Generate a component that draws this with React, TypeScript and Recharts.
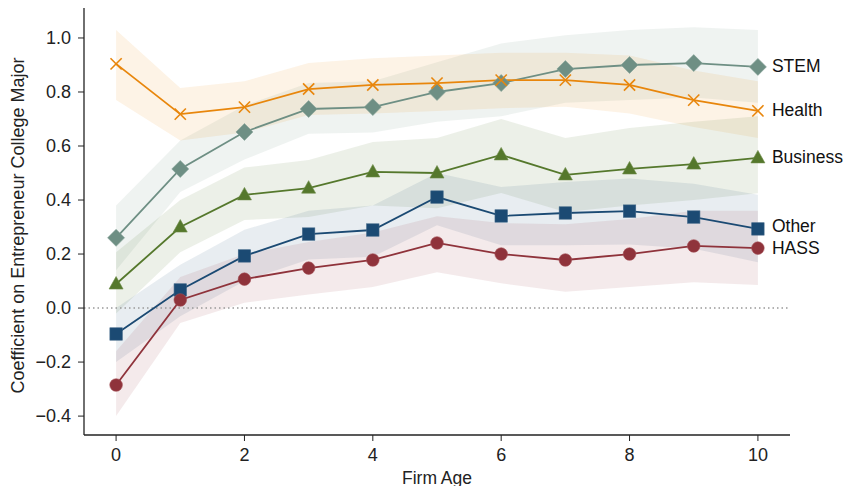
import React from 'react';
import {
  ComposedChart, Line, Area, XAxis, YAxis, ReferenceLine, ReferenceDot,
} from 'recharts';

const ages = [0, 1, 2, 3, 4, 5, 6, 7, 8, 9, 10];

const stem = [0.26, 0.515, 0.652, 0.737, 0.744, 0.80, 0.833, 0.885, 0.90, 0.907, 0.893];
const stemLo = [0.14, 0.43, 0.55, 0.645, 0.65, 0.69, 0.71, 0.76, 0.77, 0.78, 0.76];
const stemHi = [0.38, 0.62, 0.75, 0.833, 0.84, 0.91, 0.98, 1.01, 1.03, 1.04, 1.03];

const health = [0.904, 0.718, 0.744, 0.811, 0.826, 0.833, 0.844, 0.844, 0.826, 0.77, 0.73];
const healthLo = [0.77, 0.62, 0.65, 0.715, 0.72, 0.73, 0.74, 0.745, 0.72, 0.67, 0.63];
const healthHi = [1.03, 0.815, 0.84, 0.907, 0.925, 0.935, 0.945, 0.945, 0.935, 0.88, 0.84];

const business = [0.089, 0.30, 0.419, 0.444, 0.504, 0.50, 0.567, 0.493, 0.515, 0.533, 0.556];
const businessLo = [-0.02, 0.207, 0.326, 0.337, 0.38, 0.37, 0.426, 0.356, 0.38, 0.40, 0.425];
const businessHi = [0.207, 0.40, 0.52, 0.548, 0.615, 0.63, 0.70, 0.63, 0.667, 0.69, 0.71];

const other = [-0.096, 0.067, 0.193, 0.274, 0.289, 0.411, 0.341, 0.352, 0.359, 0.337, 0.293];
const otherLo = [-0.2, -0.03, 0.10, 0.18, 0.19, 0.307, 0.233, 0.233, 0.235, 0.22, 0.17];
const otherHi = [0.0, 0.16, 0.29, 0.36, 0.38, 0.50, 0.448, 0.467, 0.48, 0.46, 0.42];

const hass = [-0.285, 0.03, 0.107, 0.148, 0.178, 0.241, 0.20, 0.178, 0.20, 0.23, 0.222];
const hassLo = [-0.40, -0.055, 0.02, 0.05, 0.078, 0.133, 0.092, 0.06, 0.078, 0.096, 0.085];
const hassHi = [-0.16, 0.115, 0.20, 0.245, 0.28, 0.34, 0.315, 0.31, 0.33, 0.36, 0.36];

const xTicks = [0, 2, 4, 6, 8, 10];
const yTicks = [-0.4, -0.2, 0.0, 0.2, 0.4, 0.6, 0.8, 1.0];

const data = ages.map((a, i) => ({
  age: a,
  stem: stem[i], stemBand: [stemLo[i], stemHi[i]],
  health: health[i], healthBand: [healthLo[i], healthHi[i]],
  business: business[i], businessBand: [businessLo[i], businessHi[i]],
  other: other[i], otherBand: [otherLo[i], otherHi[i]],
  hass: hass[i], hassBand: [hassLo[i], hassHi[i]],
}));

const C = {
  stem: '#6e8f84',
  health: '#e8860c',
  business: '#55782c',
  other: '#1b4a73',
  hass: '#8f333b',
};

const FONT = '"Liberation Sans", Arial, sans-serif';

const Diamond = (p: any) => {
  const { cx, cy } = p;
  if (cx == null || cy == null) return null;
  const s = 8.5;
  return <polygon key={`d${p.index}`} points={`${cx},${cy - s} ${cx + s},${cy} ${cx},${cy + s} ${cx - s},${cy}`} fill={C.stem} stroke="#86a298" strokeWidth={0.6} />;
};
const Cross = (p: any) => {
  const { cx, cy } = p;
  if (cx == null || cy == null) return null;
  const s = 5.6;
  return (
    <g key={`x${p.index}`}>
      <line x1={cx - s} y1={cy - s} x2={cx + s} y2={cy + s} stroke={C.health} strokeWidth={1.6} />
      <line x1={cx - s} y1={cy + s} x2={cx + s} y2={cy - s} stroke={C.health} strokeWidth={1.6} />
    </g>
  );
};
const Tri = (p: any) => {
  const { cx, cy } = p;
  if (cx == null || cy == null) return null;
  return <polygon key={`t${p.index}`} points={`${cx},${cy - 7.5} ${cx + 7},${cy + 5} ${cx - 7},${cy + 5}`} fill={C.business} stroke="#6c8a47" strokeWidth={0.6} />;
};
const Sq = (p: any) => {
  const { cx, cy } = p;
  if (cx == null || cy == null) return null;
  return <rect key={`s${p.index}`} x={cx - 6.2} y={cy - 6.2} width={12.4} height={12.4} fill={C.other} stroke="#3d6486" strokeWidth={0.6} />;
};
const Circ = (p: any) => {
  const { cx, cy } = p;
  if (cx == null || cy == null) return null;
  return <circle key={`c${p.index}`} cx={cx} cy={cy} r={6.3} fill={C.hass} stroke="#a24d54" strokeWidth={0.6} />;
};

const endLabel = (text: string, dy: number) => (p: any) => (
  <text x={p.cx + 14} y={p.cy + dy} dominantBaseline="central" fontSize={17.5} fontFamily={FONT} fill="#111">{text}</text>
);

const fmtY = (v: number) => (v < 0 ? '\u2212' + Math.abs(v).toFixed(1) : v.toFixed(1));

export default function App() {
  return (
    <div style={{ position: 'absolute', left: 0, top: 0, background: '#fff' }}>
      <ComposedChart width={847} height={486} data={data} margin={{ top: 8, right: 57, bottom: 0, left: 0 }}>
        <XAxis
          dataKey="age" type="number" domain={[-0.5, 10.5]} ticks={xTicks}
          height={51} tickSize={6} tickMargin={7}
          axisLine={{ stroke: '#222', strokeWidth: 1.3 }} tickLine={{ stroke: '#222' }}
          tick={{ fontSize: 18, fill: '#222', fontFamily: FONT }}
          label={{
            content: (p: any) => (
              <text x={p.viewBox.x + p.viewBox.width / 2} y={484} textAnchor="middle" fontSize={17.5} fontFamily={FONT} fill="#222">Firm Age</text>
            ),
          }}
        />
        <YAxis
          type="number" domain={[-0.47, 1.111]} ticks={yTicks} width={84}
          tickSize={6} tickMargin={7} tickFormatter={fmtY} allowDataOverflow
          axisLine={{ stroke: '#222', strokeWidth: 1.3 }} tickLine={{ stroke: '#222' }}
          tick={{ fontSize: 18, fill: '#222', fontFamily: FONT }}
          label={{
            content: (p: any) => {
              const x = p.viewBox.x + 18;
              const y = p.viewBox.y + p.viewBox.height / 2 + 4;
              return (
                <text x={x} y={y} transform={`rotate(-90 ${x} ${y})`} textAnchor="middle" dominantBaseline="central" fontSize={18} fontFamily={FONT} fill="#222">
                  Coefficient on Entrepreneur College Major
                </text>
              );
            },
          }}
        />
        <ReferenceLine y={0} stroke="#999" strokeWidth={1.5} strokeDasharray="1.5 3" />

        <Area type="linear" dataKey="stemBand" stroke="none" fill={C.stem} fillOpacity={0.11} isAnimationActive={false} activeDot={false} dot={false} />
        <Area type="linear" dataKey="healthBand" stroke="none" fill={C.health} fillOpacity={0.1} isAnimationActive={false} activeDot={false} dot={false} />
        <Area type="linear" dataKey="businessBand" stroke="none" fill={C.business} fillOpacity={0.11} isAnimationActive={false} activeDot={false} dot={false} />
        <Area type="linear" dataKey="otherBand" stroke="none" fill={C.other} fillOpacity={0.1} isAnimationActive={false} activeDot={false} dot={false} />
        <Area type="linear" dataKey="hassBand" stroke="none" fill={C.hass} fillOpacity={0.1} isAnimationActive={false} activeDot={false} dot={false} />

        <Line type="linear" dataKey="stem" stroke={C.stem} strokeWidth={1.8} dot={Diamond} activeDot={false} isAnimationActive={false} />
        <Line type="linear" dataKey="health" stroke={C.health} strokeWidth={1.8} dot={Cross} activeDot={false} isAnimationActive={false} />
        <Line type="linear" dataKey="business" stroke={C.business} strokeWidth={1.8} dot={Tri} activeDot={false} isAnimationActive={false} />
        <Line type="linear" dataKey="other" stroke={C.other} strokeWidth={1.8} dot={Sq} activeDot={false} isAnimationActive={false} />
        <Line type="linear" dataKey="hass" stroke={C.hass} strokeWidth={1.8} dot={Circ} activeDot={false} isAnimationActive={false} />

        <ReferenceDot x={ages[10]} y={stem[10]} r={0} shape={endLabel('STEM', -1)} />
        <ReferenceDot x={ages[10]} y={health[10]} r={0} shape={endLabel('Health', -1)} />
        <ReferenceDot x={ages[10]} y={business[10]} r={0} shape={endLabel('Business', -1)} />
        <ReferenceDot x={ages[10]} y={other[10]} r={0} shape={endLabel('Other', -3)} />
        <ReferenceDot x={ages[10]} y={hass[10]} r={0} shape={endLabel('HASS', 0)} />
      </ComposedChart>
    </div>
  );
}
